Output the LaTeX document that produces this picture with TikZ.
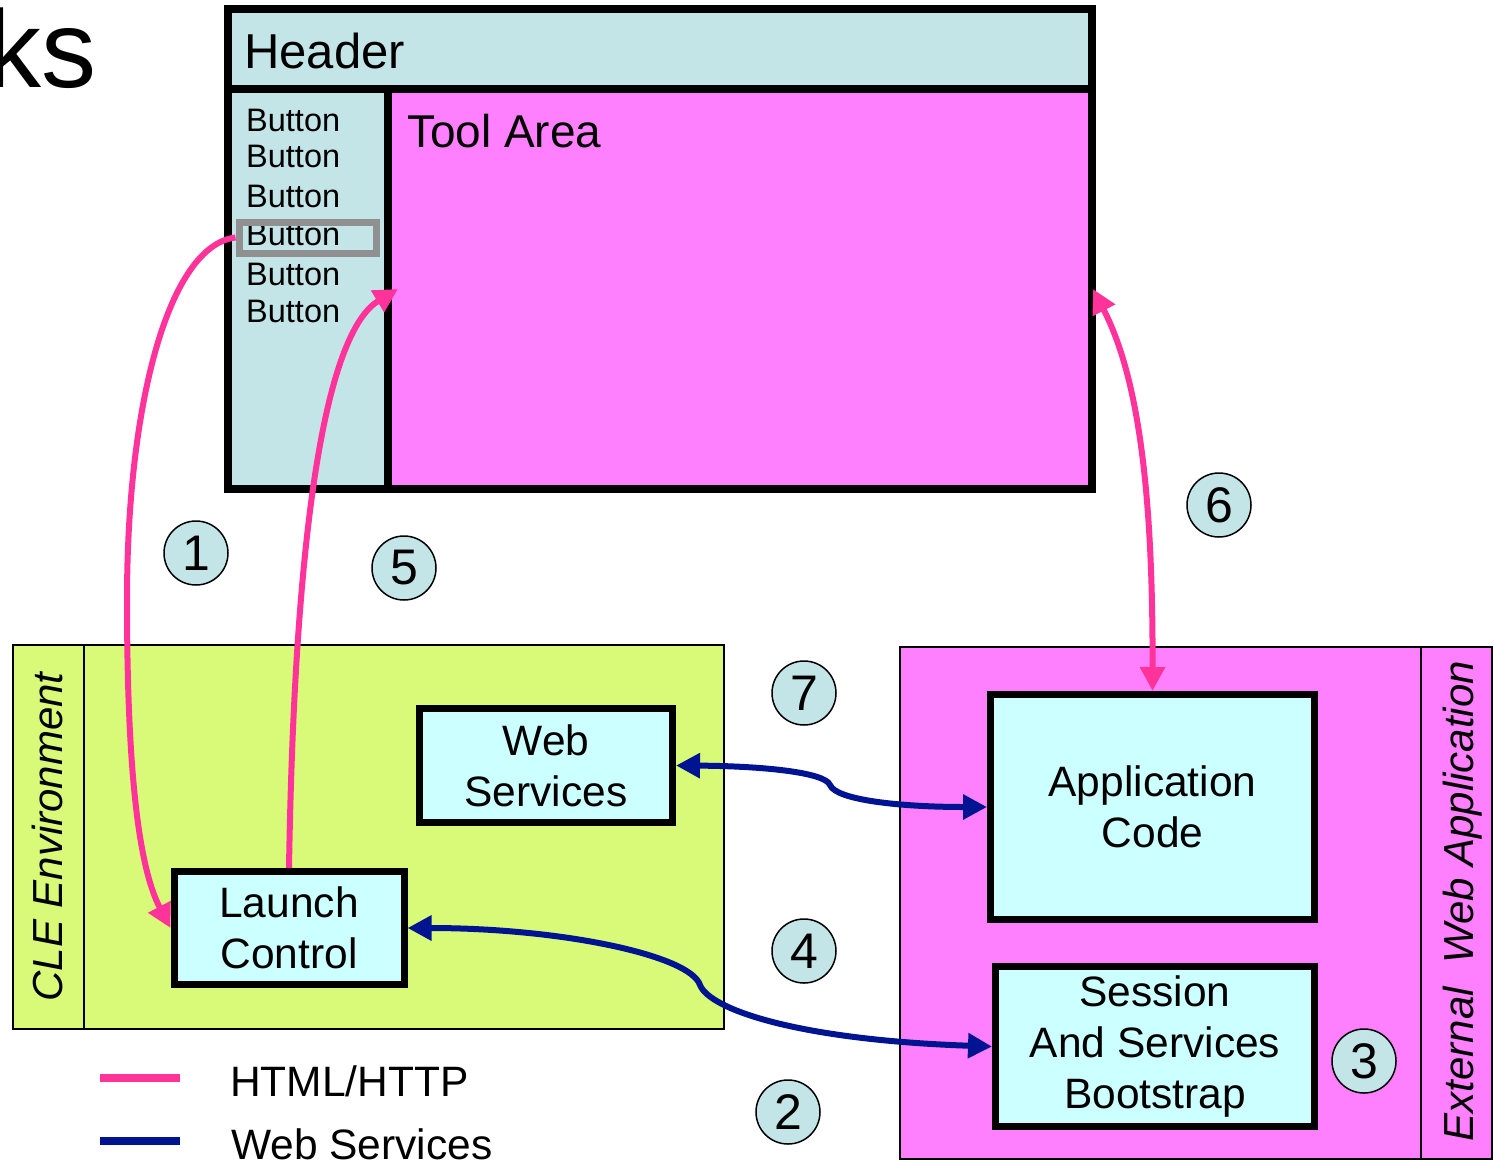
\documentclass[tikz,border=0pt]{standalone}
\usepackage{fontspec}
\setmainfont{Liberation Sans}
\usetikzlibrary{arrows.meta}

\definecolor{kopfblau}{RGB}{196,229,232}
\definecolor{toolpink}{RGB}{255,128,255}
\definecolor{boxcyan}{RGB}{204,255,255}
\definecolor{clegruen}{RGB}{216,250,120}
\definecolor{httppink}{RGB}{255,51,153}
\definecolor{wsblau}{RGB}{0,20,145}

\tikzset{
	feld/.style={draw=black, line width=8pt, inner sep=0pt},
	kasten/.style={draw=black, line width=7pt, fill=boxcyan, align=center,
		font=\fontsize{42.5}{51}\selectfont},
	nummer/.style={circle, draw=black, line width=1.5pt, fill=kopfblau,
		minimum size=64pt, inner sep=0pt, font=\fontsize{50}{50}\selectfont},
	beschrift/.style={anchor=base west, inner sep=0pt},
	seitentext/.style={rotate=90, anchor=base, inner sep=0pt,
		font=\itshape\fontsize{42}{42}\selectfont},
	http/.style={draw=httppink, line width=6pt},
	ws/.style={draw=wsblau, line width=6pt},
}

\begin{document}
\begin{tikzpicture}[x=1pt, y=-1pt, >={Triangle[length=24pt,width=24pt]}]
	\useasboundingbox (0,0) rectangle (1494,1165);

	% Titelrest oben links
	\node[beschrift, font=\fontsize{110}{110}\selectfont] (titel) at (-14,87) {ks};

	% Browserfenster
	\node[feld, fill=kopfblau, minimum width=864pt, minimum height=80pt] (kopf) at (660,49) {};
	\node[feld, fill=kopfblau, minimum width=160pt, minimum height=400pt] (leiste) at (308,289) {};
	\node[feld, fill=toolpink, minimum width=704pt, minimum height=400pt] (tool) at (740,289) {};
	\node[beschrift, font=\fontsize{49}{49}\selectfont] (kopftext) at (244,68) {Header};
	\node[beschrift, font=\fontsize{46}{46}\selectfont] (tooltext) at (407,147) {Tool Area};

	% Buttons in der Leiste
	\foreach \y [count=\i] in {131,167,207,245,285,322}
		\node[beschrift, font=\fontsize{32.5}{32}\selectfont] (btn\i) at (246,\y) {Button};
	\node[draw={rgb,255:red,144;green,144;blue,144}, line width=7pt, minimum width=137pt,
		minimum height=31pt, inner sep=0pt] (markiert) at (307.5,237.5) {};

	% CLE Umgebung
	\draw[fill=clegruen, line width=2pt] (13,645) rectangle (724,1029);
	\draw[line width=1.5pt] (84,645) -- (84,1029);
	\node[seitentext] (cle) at (62,837) {CLE Environment};

	% Externe Anwendung
	\draw[fill=toolpink, line width=2pt] (900,647) rectangle (1492,1159);
	\draw[line width=1.5pt] (1421,647) -- (1421,1159);
	\node[seitentext] (extern) at (1473,901) {External\ \ Web Application};

	% Kaesten
	\node[kasten, minimum width=253pt, minimum height=114pt] (web) at (546,765.5) {Web\\Services};
	\node[kasten, minimum width=230pt, minimum height=113pt] (launch) at (289,928) {Launch\\Control};
	\node[kasten, minimum width=324pt, minimum height=225pt] (appcode) at (1152.5,807) {Application\\Code};
	\node[kasten, minimum width=319pt, minimum height=160pt] (session) at (1155,1046.5) {Session\\And Services\\Bootstrap};

	% Schritte
	\node[nummer] (n1) at (196,553) {1};
	\node[nummer] (n2) at (788,1112) {2};
	\node[nummer] (n3) at (1364,1061) {3};
	\node[nummer] (n4) at (804,951) {4};
	\node[nummer] (n5) at (404,568) {5};
	\node[nummer] (n6) at (1219,505) {6};
	\node[nummer] (n7) at (804,693) {7};

	% HTML/HTTP Pfeile
	\draw[http, ->] (markiert.west) .. controls (170,245) and (127,400) .. (127,600)
		.. controls (127,780) and (140,870) .. (launch.west);
	\draw[http, ->] (launch.north) .. controls (295,500) and (330,330) .. ([xshift=14pt]tool.west);
	\draw[http, <->] ([xshift=-3pt]tool.east) .. controls (1140,380) and (1153,500) .. (appcode.north);

	% Web Services Pfeile
	\draw[ws, <->] (web.east) .. controls (760,766) and (825,772) .. (830,785)
		.. controls (836,800) and (900,807) .. (appcode.west);
	\draw[ws, <->] (launch.east) .. controls (560,928) and (690,955) .. (700,985)
		.. controls (710,1010) and (800,1040) .. (session.west);

	% Legende
	\draw[http, line width=8pt] (100,1078) -- (180,1078);
	\draw[ws, line width=8pt] (100,1141) -- (180,1141);
	\node[beschrift, font=\fontsize{42.5}{42}\selectfont] (leg1) at (230,1096) {HTML/HTTP};
	\node[beschrift, font=\fontsize{42.5}{42}\selectfont] (leg2) at (231,1159) {Web Services};
\end{tikzpicture}
\end{document}
